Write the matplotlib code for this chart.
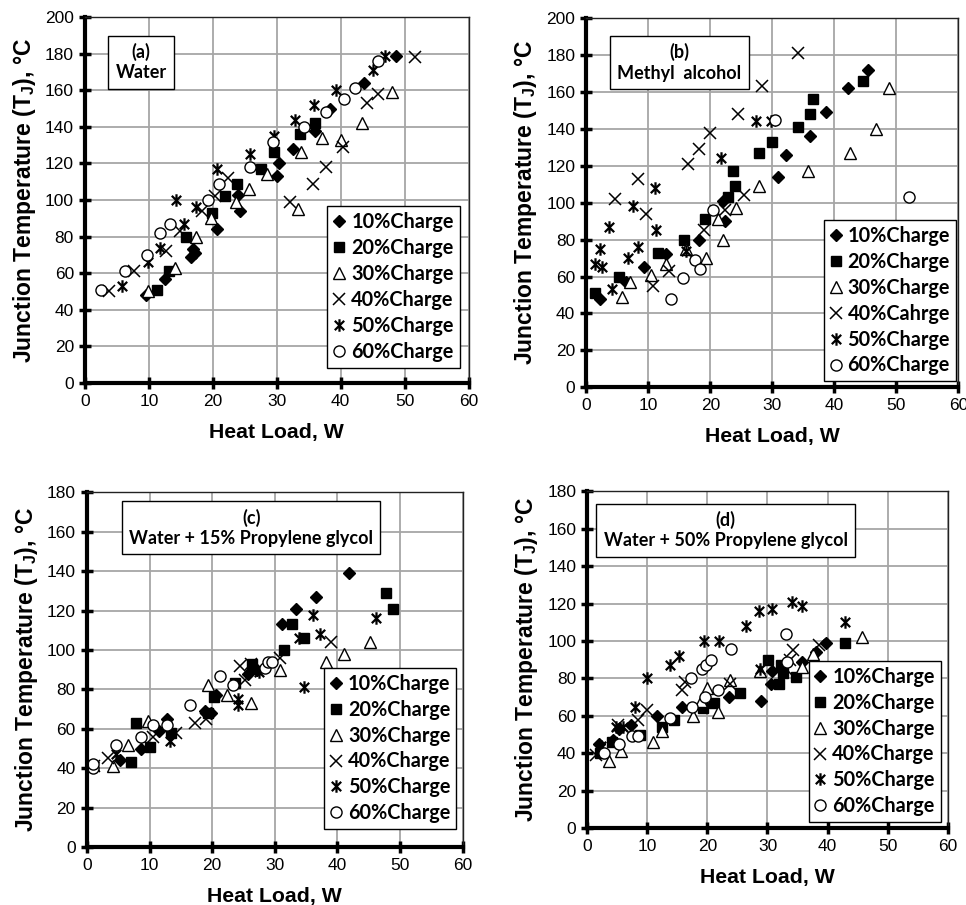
import numpy as np
import matplotlib
matplotlib.use("Agg")
import matplotlib.pyplot as plt
from matplotlib.path import Path

plt.rcParams["font.family"] = ["Liberation Sans", "DejaVu Sans"]
plt.rcParams["mathtext.fontset"] = "custom"
plt.rcParams["mathtext.bf"] = "Liberation Sans:bold"
plt.rcParams["mathtext.rm"] = "Liberation Sans:bold"

# ---- data: (heat load W, junction temperature C) ----
# (a) Water
a_10 = [(9.6, 48), (12.5, 57), (16.6, 69), (16.9, 73), (17.2, 71), (20.6, 84), (24.0, 103), (24.2, 94),
        (30.0, 113), (30.4, 120), (32.5, 128), (36.0, 138), (38.4, 150), (43.6, 164), (48.7, 179)]
a_20 = [(11.3, 51), (13.1, 61), (15.8, 80), (19.8, 93), (21.9, 102), (23.8, 109), (27.6, 117),
        (29.6, 126), (33.7, 136), (36.0, 142)]
a_30 = [(9.8, 50), (14.1, 63), (17.3, 80), (19.7, 90), (23.7, 99), (25.7, 106), (28.4, 114), (33.4, 95),
        (33.8, 126), (37.0, 134), (40.0, 133), (43.3, 142), (48.1, 159)]
a_40 = [(3.8, 50), (7.7, 61), (12.6, 72), (14.9, 83), (18.3, 94), (20.3, 102), (22.3, 112), (32.1, 99),
        (35.7, 109), (37.7, 118), (40.4, 129), (44.1, 153), (45.8, 158), (51.7, 178)]
a_50 = [(5.8, 53), (9.8, 66), (11.8, 74), (14.3, 100), (15.5, 87), (17.4, 96), (20.7, 117), (25.8, 125),
        (29.5, 135), (32.8, 144), (35.9, 152), (39.3, 160), (45.0, 171), (46.9, 179)]
a_60 = [(2.5, 51), (6.3, 61), (9.7, 70), (11.8, 82), (13.3, 87), (19.2, 100), (21.0, 109), (25.8, 118),
        (29.4, 132), (34.2, 140), (37.7, 148), (40.5, 155), (42.3, 161), (45.8, 176)]

# (b) Methyl alcohol
b_10 = [(2.2, 48), (6.4, 57), (9.3, 65), (12.9, 72), (18.1, 80), (22.0, 101), (22.4, 90), (30.9, 114),
        (32.2, 126), (36.1, 136), (38.6, 149), (42.2, 162), (45.5, 172)]
b_20 = [(1.4, 51), (5.3, 60), (11.6, 73), (15.8, 80), (19.1, 91), (22.9, 103), (23.6, 117), (24.0, 109),
        (27.9, 127), (29.9, 133), (34.1, 141), (36.1, 148), (36.5, 156), (44.7, 166)]
b_30 = [(5.8, 49), (7.0, 57), (10.5, 61), (12.9, 67), (16.0, 75), (19.3, 70), (21.3, 91), (22.1, 80),
        (24.2, 97), (27.9, 109), (35.7, 117), (42.6, 127), (46.7, 140), (48.9, 162)]
b_40 = [(4.6, 102), (8.4, 113), (9.7, 94), (10.7, 55), (13.3, 63), (16.4, 121), (18.2, 129), (19.9, 138),
        (19.0, 85), (22.4, 96), (25.5, 104), (24.5, 148), (28.4, 163), (34.2, 181)]
b_50 = [(1.4, 67), (2.2, 75), (2.6, 65), (3.7, 87), (4.1, 53), (6.7, 70), (7.5, 98), (8.3, 76),
        (11.1, 108), (11.3, 85), (16.0, 74), (21.7, 124), (27.4, 144), (29.8, 144)]
b_60 = [(13.7, 48), (15.6, 59), (17.6, 69), (18.4, 64), (20.4, 96), (30.5, 145), (52.0, 103)]

# (c) Water + 15% Propylene glycol
c_10 = [(5.3, 44), (8.6, 50), (11.5, 59), (12.8, 65), (18.9, 69), (19.8, 68), (20.6, 77), (25.7, 88),
        (27.1, 90), (31.1, 113), (33.4, 121), (36.6, 127), (41.9, 139)]
c_20 = [(7.0, 43), (7.9, 63), (10.0, 51), (13.4, 58), (19.3, 68), (20.3, 76), (23.6, 83), (26.4, 93),
        (31.4, 100), (32.7, 113), (34.6, 106), (47.7, 129), (48.8, 121)]
c_30 = [(4.1, 41), (6.5, 52), (9.8, 64), (19.3, 82), (22.4, 77), (26.2, 73), (30.8, 90), (38.1, 94),
        (41.0, 98), (45.2, 104)]
c_40 = [(1.1, 41), (3.4, 45), (10.6, 56), (14.3, 58), (17.2, 63), (19.0, 65), (24.4, 92), (25.2, 85),
        (26.2, 93), (30.9, 96), (38.9, 104)]
c_50 = [(1.2, 41), (4.6, 47), (13.2, 54), (24.1, 72), (24.1, 75), (27.4, 89), (33.8, 106), (34.6, 81),
        (36.1, 118), (37.2, 108), (46.1, 116)]
c_60 = [(0.9, 40), (1.0, 42), (4.7, 52), (8.6, 56), (10.5, 62), (12.8, 62), (16.5, 72), (21.3, 87),
        (23.3, 82), (28.4, 91), (28.9, 94), (29.5, 94)]

# (d) Water + 50% Propylene glycol
d_10 = [(1.9, 45), (4.2, 47), (5.2, 53), (7.2, 55), (11.6, 60), (15.8, 65), (23.6, 70), (29.0, 68),
        (30.6, 77), (30.8, 84), (35.7, 89), (38.1, 94), (39.7, 99)]
d_20 = [(2.1, 40), (4.1, 46), (8.7, 50), (12.4, 54), (14.4, 58), (19.3, 64), (21.1, 67), (25.5, 72),
        (30.1, 90), (32.0, 77), (32.3, 87), (32.6, 83), (34.8, 81), (42.9, 99)]
d_30 = [(3.6, 36), (5.6, 41), (10.9, 46), (12.4, 52), (17.6, 60), (19.0, 68), (20.0, 75), (21.8, 62),
        (23.8, 79), (28.7, 84), (35.7, 86), (37.5, 93), (45.8, 102)]
d_40 = [(1.4, 39), (5.1, 55), (8.4, 58), (9.9, 63), (15.7, 74), (16.3, 78), (23.7, 77), (33.0, 85),
        (33.7, 90), (34.2, 95), (38.6, 98)]
d_50 = [(2.2, 44), (4.7, 54), (5.9, 54), (7.9, 65), (9.9, 80), (13.7, 87), (15.2, 92), (19.4, 100),
        (21.9, 100), (26.4, 108), (28.6, 116), (30.8, 117), (34.1, 121), (35.7, 119), (42.9, 110), (28.7, 85)]
d_60 = [(2.8, 40), (5.2, 45), (7.4, 49), (8.5, 49), (13.8, 59), (17.5, 65), (17.2, 80), (19.1, 85),
        (19.8, 87), (20.6, 90), (19.6, 70), (21.8, 74), (23.9, 96), (33.1, 104), (33.2, 89)]

labels = ["10%Charge", "20%Charge", "30%Charge", "40%Charge", "50%Charge", "60%Charge"]
labels_b = ["10%Charge", "20%Charge", "30%Charge", "40%Cahrge", "50%Charge", "60%Charge"]

panel_titles = ["(a)\nWater", "(b)\nMethyl  alcohol",
                "(c)\nWater + 15% Propylene glycol", "(d)\nWater + 50% Propylene glycol"]
y_max = [200, 200, 180, 180]

# excel style star: x with a vertical bar
star = Path([(0, -1), (0, 1), (-0.75, -0.75), (0.75, 0.75), (-0.75, 0.75), (0.75, -0.75)],
            [Path.MOVETO, Path.LINETO, Path.MOVETO, Path.LINETO, Path.MOVETO, Path.LINETO])

styles = [
    dict(marker="D", ms=6.5, mfc="black", mec="black"),
    dict(marker="s", ms=6.5, mfc="black", mec="black"),
    dict(marker="^", ms=8, mfc="white", mec="black", mew=1.0),
    dict(marker="x", ms=8, mec="black", mew=1.1),
    dict(marker=star, ms=9, mec="black", mew=1.6),
    dict(marker="o", ms=8, mfc="white", mec="black", mew=1.0),
]

W, H = 966, 905
fig = plt.figure(figsize=(W / 100, H / 100), dpi=100)
rects = [
    [0.088, 0.577, 0.397, 0.404],
    [0.607, 0.572, 0.385, 0.408],
    [0.090, 0.064, 0.389, 0.392],
    [0.608, 0.085, 0.373, 0.372],
]
panels = [
    [a_10, a_20, a_30, a_40, a_50, a_60],
    [b_10, b_20, b_30, b_40, b_50, b_60],
    [c_10, c_20, c_30, c_40, c_50, c_60],
    [d_10, d_20, d_30, d_40, d_50, d_60],
]
legend_anchor = [(0.977, 0.041), (0.994, 0.016), (0.983, 0.05), (0.981, 0.017)]
title_pos = [(0.146, 0.877), (0.25, 0.88), (0.437, 0.90), (0.384, 0.885)]

for i, (rect, series) in enumerate(zip(rects, panels)):
    ax = fig.add_axes(rect)
    labs = labels_b if i == 1 else labels
    for pts, st, lab in zip(series, styles, labs):
        arr = np.array(pts)
        ax.plot(arr[:, 0], arr[:, 1], ls="none", label=lab, **st)

    ax.set_xlim(0, 60)
    ax.set_ylim(0, y_max[i])
    ax.set_xticks(np.arange(0, 61, 10))
    ax.set_yticks(np.arange(0, y_max[i] + 1, 20))
    ax.grid(True, color="#a6a6a6", lw=1.3)
    ax.set_axisbelow(True)
    for s in ["left", "bottom"]:
        ax.spines[s].set_linewidth(3)
    for s in ["top", "right"]:
        ax.spines[s].set_linewidth(1)
        ax.spines[s].set_color("#222222")
    ax.tick_params(direction="inout", length=8, width=2.5, labelsize=12.5, pad=4)

    w_px = rect[2] * W
    h_px = rect[3] * H
    ax.set_xlabel("Heat Load, W", fontsize=15.3, fontweight="bold")
    ax.xaxis.set_label_coords(0.5, -40 / h_px)
    ax.set_ylabel(r"Junction Temperature (T$_{\mathbf{J}}$), °C", fontsize=16.5, fontweight="bold")
    ax.yaxis.set_label_coords(-47 / w_px, 0.5)

    leg = ax.legend(loc="lower right", bbox_to_anchor=legend_anchor[i], borderaxespad=0,
                    fancybox=False, framealpha=1, edgecolor="black", handlelength=0.6,
                    handletextpad=0.3, labelspacing=0.3, borderpad=0.3,
                    prop=dict(family="Lato", weight="bold", size=14.3))
    leg.get_frame().set_linewidth(1.0)

    ax.text(title_pos[i][0], title_pos[i][1], panel_titles[i], transform=ax.transAxes,
            ha="center", va="center", fontsize=13, fontweight="bold", family="Lato",
            linespacing=1.25,
            bbox=dict(boxstyle="square,pad=0.4", fc="white", ec="black", lw=1.0))

fig.savefig("out.png", dpi=100)
